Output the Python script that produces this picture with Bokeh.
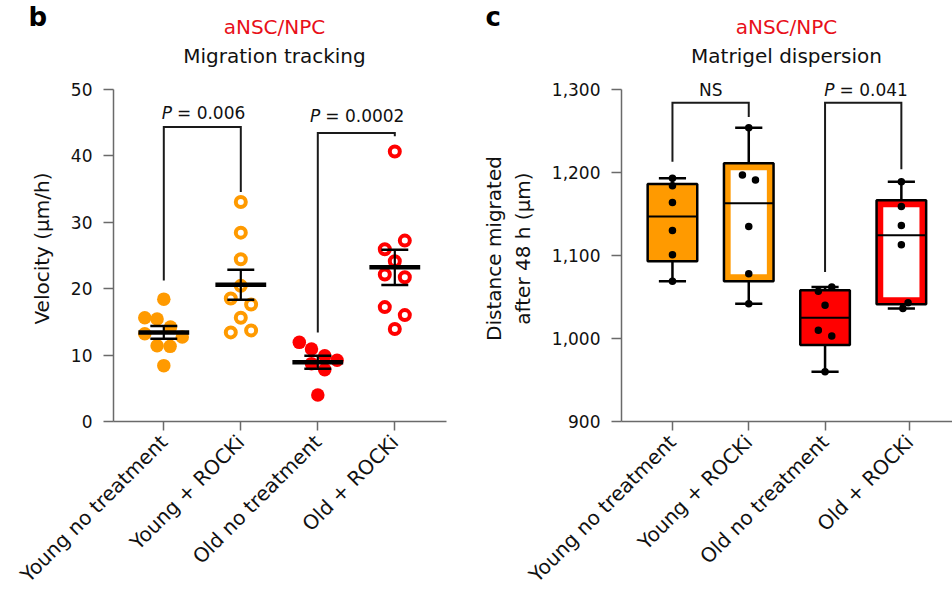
import math
import numpy as np
from bokeh.plotting import figure
from bokeh.layouts import row, column
from bokeh.models import Range1d, FixedTicker, Label, CustomJSTickFormatter, NumeralTickFormatter
from bokeh.embed import file_html
from bokeh.resources import INLINE

# ---------------- data ----------------
categories = ["Young no treatment", "Young + ROCKi", "Old no treatment", "Old + ROCKi"]

# panel b: migration tracking velocity (um/h)
vel_young_none = [18.4, 15.6, 15.4, 14.2, 13.2, 12.7, 11.4, 11.3, 8.4]
vel_young_rocki = [33.0, 28.4, 24.4, 20.4, 18.5, 17.6, 15.6, 13.4, 13.7]
vel_old_none = [11.9, 10.9, 9.9, 9.2, 8.7, 7.8, 4.0]
vel_old_rocki = [40.6, 27.2, 25.9, 24.1, 22.1, 21.7, 17.2, 16.0, 13.9]

# panel c: Matrigel dispersion, distance migrated after 48 h (um)
dist_young_none = [1193, 1184, 1164, 1130, 1101, 1069]
dist_young_rocki = [1254, 1197, 1191, 1135, 1078, 1042]
dist_old_none = [1062, 1057, 1040, 1010, 1003, 960]
dist_old_rocki = [1189, 1159, 1136, 1113, 1043, 1036]

b_y_ticks = [0, 10, 20, 30, 40, 50]
c_y_ticks = [900, 1000, 1100, 1200, 1300]

# significance annotations
b_pvals = ["0.006", "0.0002"]
c_labels = ["NS", "0.041"]

# ---------------- styling / layout ----------------
FONT = "DejaVu Sans"
ORANGE = "#FF9A00"
RED = "#FF0000"
TITLE_RED = "#E8101A"
AXIS = "#6a6a6a"
INK = "#111111"

group_color = [ORANGE, ORANGE, RED, RED]
group_open = [False, True, False, True]

b_jitter = [
    [0, -0.247, -0.087, 0.087, -0.247, 0.24, -0.087, 0.082, 0],
    [0, 0, 0, 0, -0.13, 0.134, 0, -0.13, 0.134],
    [-0.24, -0.082, 0.09, 0.25, -0.082, 0.09, 0],
    [0, 0.13, -0.13, 0, -0.13, 0.13, -0.13, 0.13, 0],
]
c_jitter = [
    [0, 0, 0, 0, 0, 0],
    [0, -0.083, 0.088, 0, 0, 0],
    [0.088, -0.088, 0, -0.088, 0.088, 0],
    [0, 0, 0, 0, 0.088, 0.02],
]
c_box_pos = [1, 2, 3, 4]
c_tick_pos = [1, 2, 3, 4.11]
b_pos = [1, 2, 3, 4]

PAGE_W, PAGE_H = 952, 598
HEAD_H = 75           # header strip (titles, panel letters)
B_W = 448
C_W = PAGE_W - B_W
FRAME_TOP = HEAD_H
FRAME_BOT = 421
BASE_SHIFT = 0.42     # empirical baseline correction (fraction of font size)

def bx(px):
    return 1 + (px - 163.3) / 77.0

def by(py):
    return (FRAME_BOT - py) / 6.65

def cx(px):
    return 1 + (px - 671.7) / 76.37

def cy(py):
    return 900 + (FRAME_BOT - py) / 0.83

def ident(v):
    return v


def lbl(p, x, base_px, conv_y, text, size, color=INK, align="left", style="normal"):
    y = conv_y(base_px - BASE_SHIFT * size)
    p.add_layout(Label(x=x, y=y, text=text, text_font=FONT, text_font_size=f"{size}px",
                       text_color=color, text_align=align, text_font_style=style,
                       text_baseline="alphabetic"))


def style_axes(p):
    p.xgrid.visible = False
    p.ygrid.visible = False
    p.outline_line_color = None
    for ax in (p.xaxis[0], p.yaxis[0]):
        ax.axis_line_color = AXIS
        ax.axis_line_width = 1.5
        ax.major_tick_line_color = AXIS
        ax.major_tick_line_width = 1.5
        ax.minor_tick_line_color = None
        ax.major_tick_in = 0
        ax.major_label_text_font = FONT
        ax.major_label_text_color = INK
        ax.axis_label_text_font = FONT
        ax.axis_label_text_font_style = "normal"
        ax.axis_label_text_color = INK
        ax.axis_label_text_font_size = "20px"
    p.xaxis[0].major_tick_out = 9
    p.yaxis[0].major_tick_out = 10
    p.xaxis[0].major_label_text_font_size = "20px"
    p.yaxis[0].major_label_text_font_size = "17px"
    p.xaxis[0].major_label_orientation = math.pi / 4
    p.xaxis[0].major_label_standoff = 8
    p.yaxis[0].major_label_standoff = 11


# ================= header (titles and panel letters) =================
head = figure(width=PAGE_W, height=HEAD_H, x_range=Range1d(0, PAGE_W),
              y_range=Range1d(HEAD_H, 0), min_border=0, x_axis_type=None,
              y_axis_type=None, toolbar_location=None, output_backend="svg", title=None)
head.grid.visible = False
head.outline_line_color = None
lbl(head, 28, 27, ident, "b", 26, color="black", style="bold")
lbl(head, 274, 35, ident, "aNSC/NPC", 20, color=TITLE_RED, align="center")
lbl(head, 274, 64, ident, "Migration tracking", 20, align="center")
lbl(head, 485, 27, ident, "c", 26, color="black", style="bold")
lbl(head, 786, 35, ident, "aNSC/NPC", 20, color=TITLE_RED, align="center")
lbl(head, 786, 64, ident, "Matrigel dispersion", 20, align="center")

MAIN_H = PAGE_H - HEAD_H

# ================= panel b =================
p_b = figure(width=B_W, height=MAIN_H, x_range=Range1d(bx(113), bx(446)),
             y_range=Range1d(0, by(FRAME_TOP)), min_border_left=113, min_border_right=2,
             min_border_top=0, min_border_bottom=PAGE_H - FRAME_BOT,
             toolbar_location=None, output_backend="svg", title=None)
style_axes(p_b)
p_b.yaxis[0].ticker = FixedTicker(ticks=b_y_ticks)
p_b.yaxis[0].bounds = (b_y_ticks[0], b_y_ticks[-1])
p_b.yaxis[0].axis_label = "Velocity (\u03bcm/h)"
p_b.yaxis[0].axis_label_standoff = 14
p_b.xaxis[0].ticker = FixedTicker(ticks=b_pos)
p_b.xaxis[0].formatter = CustomJSTickFormatter(args=dict(labels=categories),
                                              code="return labels[index];")

vel_groups = [vel_young_none, vel_young_rocki, vel_old_none, vel_old_rocki]
for i, vals in enumerate(vel_groups):
    xs = [b_pos[i] + j for j in b_jitter[i]]
    if group_open[i]:
        p_b.scatter(xs, vals, marker="circle", size=10, line_width=4,
                    line_color=group_color[i], fill_color="white")
    else:
        p_b.scatter(xs, vals, marker="circle", size=13.5, line_color=None,
                    fill_color=group_color[i])

means = [float(np.mean(v)) for v in vel_groups]
sems = [float(np.std(v, ddof=1) / np.sqrt(len(v))) for v in vel_groups]
p_b.segment(x0=[x - 0.33 for x in b_pos], x1=[x + 0.33 for x in b_pos],
            y0=means, y1=means, line_color="black", line_width=4.5)
p_b.segment(x0=b_pos, x1=b_pos, y0=[m - s for m, s in zip(means, sems)],
            y1=[m + s for m, s in zip(means, sems)], line_color="black", line_width=2.2)
for sign in (-1, 1):
    ys = [m + sign * s for m, s in zip(means, sems)]
    p_b.segment(x0=[x - 0.175 for x in b_pos], x1=[x + 0.175 for x in b_pos],
                y0=ys, y1=ys, line_color="black", line_width=2.5)

b_br_x = [(1, 2), (3, 4)]
b_br_top = [44.3, 43.4]
b_br_legs = [(21.2, 34.5), (13.4, 42.9)]
for (x0, x1), top, (l0, l1) in zip(b_br_x, b_br_top, b_br_legs):
    p_b.line([x0, x0, x1, x1], [l0, top, top, l1], line_color="#1a1a1a",
             line_width=2, line_join="miter")

for anchor_px, base_px, pv in zip([171.5, 319.8], [120, 123], b_pvals):
    lbl(p_b, bx(anchor_px), base_px, by, "P", 17, align="right", style="italic")
    lbl(p_b, bx(anchor_px + 5), base_px, by, "= " + pv, 17, align="left")

# ================= panel c =================
p_c = figure(width=C_W, height=MAIN_H, x_range=Range1d(cx(620.7), cx(PAGE_W)),
             y_range=Range1d(900, cy(FRAME_TOP)), min_border_left=int(round(620.7 - B_W)),
             min_border_right=0, min_border_top=0, min_border_bottom=PAGE_H - FRAME_BOT,
             toolbar_location=None, output_backend="svg", title=None)
style_axes(p_c)
p_c.yaxis[0].ticker = FixedTicker(ticks=c_y_ticks)
p_c.yaxis[0].bounds = (c_y_ticks[0], c_y_ticks[-1])
p_c.yaxis[0].formatter = NumeralTickFormatter(format="0,0")
p_c.yaxis[0].axis_label = "Distance migrated\nafter 48 h (\u03bcm)"
p_c.yaxis[0].axis_label_standoff = 14
p_c.xaxis[0].ticker = FixedTicker(ticks=c_tick_pos)
p_c.xaxis[0].formatter = CustomJSTickFormatter(args=dict(labels=categories),
                                              code="return labels[index];")

dist_groups = [dist_young_none, dist_young_rocki, dist_old_none, dist_old_rocki]
HALF = 0.325
CAP = 0.178
inset_x = 6.7 / 76.37
inset_y = 7.0 / 0.83
for i, vals in enumerate(dist_groups):
    x = c_box_pos[i]
    q1, med, q3 = np.percentile(vals, [25, 50, 75], method="weibull")
    lo, hi = min(vals), max(vals)
    p_c.segment(x0=[x, x], x1=[x, x], y0=[lo, q3], y1=[q1, hi], line_color="black", line_width=2.5)
    p_c.segment(x0=[x - CAP, x - CAP], x1=[x + CAP, x + CAP], y0=[lo, hi], y1=[lo, hi],
                line_color="black", line_width=2.5)
    p_c.quad(left=[x - HALF], right=[x + HALF], bottom=[q1], top=[q3],
             fill_color=group_color[i], line_color="black", line_width=2.5)
    if group_open[i]:
        p_c.quad(left=[x - HALF + inset_x], right=[x + HALF - inset_x],
                 bottom=[q1 + inset_y], top=[q3 - inset_y], fill_color="white", line_color=None)
    p_c.segment(x0=[x - HALF], x1=[x + HALF], y0=[med], y1=[med], line_color="black", line_width=2)
    p_c.scatter([x + j for j in c_jitter[i]], vals, marker="circle", size=7.5,
                fill_color="black", line_color=None)

c_br_x = [(1, 2), (3, 4)]
c_br_top = [1284, 1284]
c_br_legs = [(1213, 1267), (1080, 1204)]
for (x0, x1), top, (l0, l1) in zip(c_br_x, c_br_top, c_br_legs):
    p_c.line([x0, x0, x1, x1], [l0, top, top, l1], line_color="#1a1a1a",
             line_width=2, line_join="miter")

lbl(p_c, cx(710), 97, cy, c_labels[0], 17, align="center")
lbl(p_c, cx(834), 97, cy, "P", 17, align="right", style="italic")
lbl(p_c, cx(839), 97, cy, "= " + c_labels[1], 17, align="left")

layout = column(head, row(p_b, p_c))
open("out.html", "w").write(file_html(layout, INLINE))
